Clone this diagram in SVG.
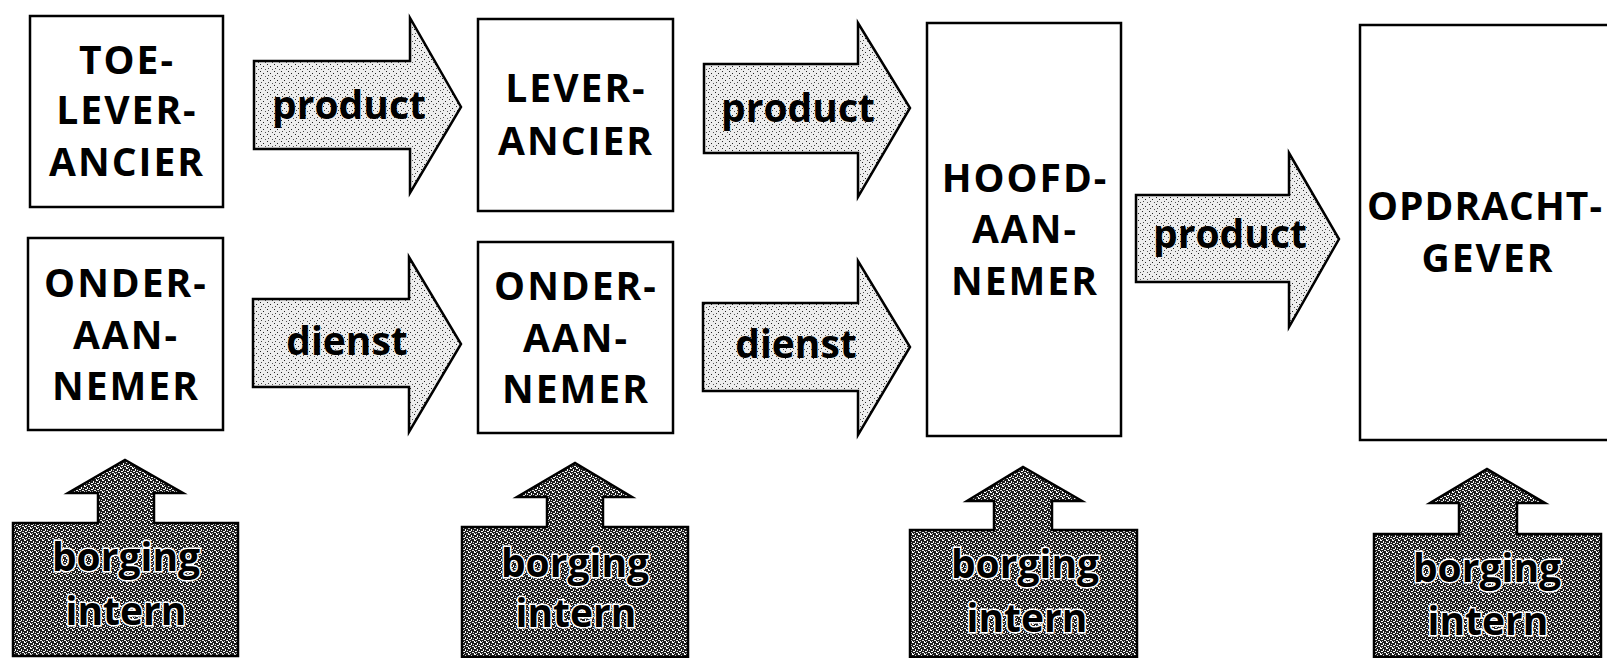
<svg xmlns="http://www.w3.org/2000/svg" width="1607" height="658" viewBox="0 0 1607 658">
<defs>
<pattern id="light" width="7" height="7" patternUnits="userSpaceOnUse">
<rect width="7" height="7" fill="#ededed"/>
<rect x="1" y="1" width="1" height="1" fill="#222"/>
<rect x="4" y="3" width="1" height="1" fill="#222"/>
<rect x="2" y="5" width="1" height="1" fill="#444"/>
<rect x="6" y="6" width="1" height="1" fill="#555"/>
</pattern>
<pattern id="dark" width="6" height="6" patternUnits="userSpaceOnUse">
<rect width="6" height="6" fill="#1e1e1e"/>
<rect x="0" y="0" width="2" height="1" fill="#fff"/>
<rect x="3" y="1" width="1" height="2" fill="#fff"/>
<rect x="5" y="2" width="1" height="1" fill="#ddd"/>
<rect x="1" y="3" width="2" height="1" fill="#fff"/>
<rect x="4" y="4" width="2" height="1" fill="#eee"/>
<rect x="0" y="5" width="1" height="1" fill="#fff"/>
<rect x="2" y="5" width="1" height="1" fill="#ccc"/>
</pattern>
</defs>
<style>
.box{fill:#fff;stroke:#000;stroke-width:2.5}
.flow{fill:url(#light);stroke:#000;stroke-width:2.5;stroke-linejoin:miter}
.bor{fill:url(#dark);stroke:#000;stroke-width:2.5}
.cap{font-family:"Open Sans","Liberation Sans",sans-serif;font-weight:700;font-size:39px;letter-spacing:2px;text-anchor:middle;fill:#000}
.lbl{font-family:"Open Sans","Liberation Sans",sans-serif;font-weight:700;font-size:39px;text-anchor:middle;fill:#000}
.bt{font-family:"Open Sans","Liberation Sans",sans-serif;font-weight:700;font-size:39px;text-anchor:middle;fill:#000;stroke:#fff;stroke-width:3;paint-order:stroke}
</style>
<rect width="1607" height="658" fill="#fff"/>

<g id="toeleverancier">
<rect class="box" x="30" y="16" width="193" height="191"/>
<text class="cap" x="127" y="74">TOE-</text>
<text class="cap" x="127" y="124">LEVER-</text>
<text class="cap" x="127" y="176">ANCIER</text>
</g>
<g id="onderaannemer1">
<rect class="box" x="28" y="238" width="195" height="192"/>
<text class="cap" x="126" y="297">ONDER-</text>
<text class="cap" x="126" y="349">AAN-</text>
<text class="cap" x="126" y="400">NEMER</text>
</g>
<g id="leverancier">
<rect class="box" x="478" y="19" width="195" height="192"/>
<text class="cap" x="576" y="102">LEVER-</text>
<text class="cap" x="576" y="155">ANCIER</text>
</g>
<g id="onderaannemer2">
<rect class="box" x="478" y="242" width="195" height="191"/>
<text class="cap" x="576" y="300">ONDER-</text>
<text class="cap" x="576" y="352">AAN-</text>
<text class="cap" x="576" y="403">NEMER</text>
</g>
<g id="hoofdaannemer">
<rect class="box" x="927" y="23" width="194" height="413"/>
<text class="cap" x="1025" y="192">HOOFD-</text>
<text class="cap" x="1025" y="243">AAN-</text>
<text class="cap" x="1025" y="295">NEMER</text>
</g>
<g id="opdrachtgever">
<rect class="box" x="1360" y="25" width="260" height="415"/>
<text class="cap" x="1485" y="220" style="letter-spacing:1px">OPDRACHT-</text>
<text class="cap" x="1488" y="272">GEVER</text>
</g>

<g id="connectors">
<g id="product1">
<polygon class="flow" points="254,61 410,61 410,18 461,107 410,193 410,149 254,149"/>
<text class="lbl" x="349" y="119">product</text>
</g>
<g id="dienst1">
<polygon class="flow" points="253,299 409,299 409,257 461,344 409,432 409,387 253,387"/>
<text class="lbl" x="347" y="355">dienst</text>
</g>
<g id="product2">
<polygon class="flow" points="704,64 858,64 858,23 910,108 858,197 858,153 704,153"/>
<text class="lbl" x="798" y="122">product</text>
</g>
<g id="dienst2">
<polygon class="flow" points="703,303 858,303 858,261 910,347 858,435 858,391 703,391"/>
<text class="lbl" x="796" y="358">dienst</text>
</g>
<g id="product3">
<polygon class="flow" points="1136,195 1289,195 1289,153 1339,239 1289,327 1289,282 1136,282"/>
<text class="lbl" x="1230" y="248">product</text>
</g>
</g>

<g id="borging1">
<path class="bor" d="M13,523 L98,523 L98,493 L68,493 L125,460 L183,493 L154,493 L154,523 L238,523 L238,656 L13,656 Z"/>
<text class="bt" x="126" y="571">borging</text>
<text class="bt" x="126" y="625">intern</text>
</g>
<g id="borging2">
<path class="bor" d="M462,527 L547,527 L547,497 L517,497 L575,463 L632,497 L603,497 L603,527 L688,527 L688,657 L462,657 Z"/>
<text class="bt" x="575" y="577">borging</text>
<text class="bt" x="576" y="627">intern</text>
</g>
<g id="borging3">
<path class="bor" d="M910,530 L994,530 L994,501 L967,501 L1023,467 L1082,501 L1052,501 L1052,530 L1137,530 L1137,657 L910,657 Z"/>
<text class="bt" x="1025" y="578">borging</text>
<text class="bt" x="1027" y="632">intern</text>
</g>
<g id="borging4">
<path class="bor" d="M1374,534 L1459,534 L1459,503 L1430,503 L1487,469 L1545,503 L1517,503 L1517,534 L1601,534 L1601,657 L1374,657 Z"/>
<text class="bt" x="1487" y="582">borging</text>
<text class="bt" x="1488" y="635">intern</text>
</g>
</svg>
